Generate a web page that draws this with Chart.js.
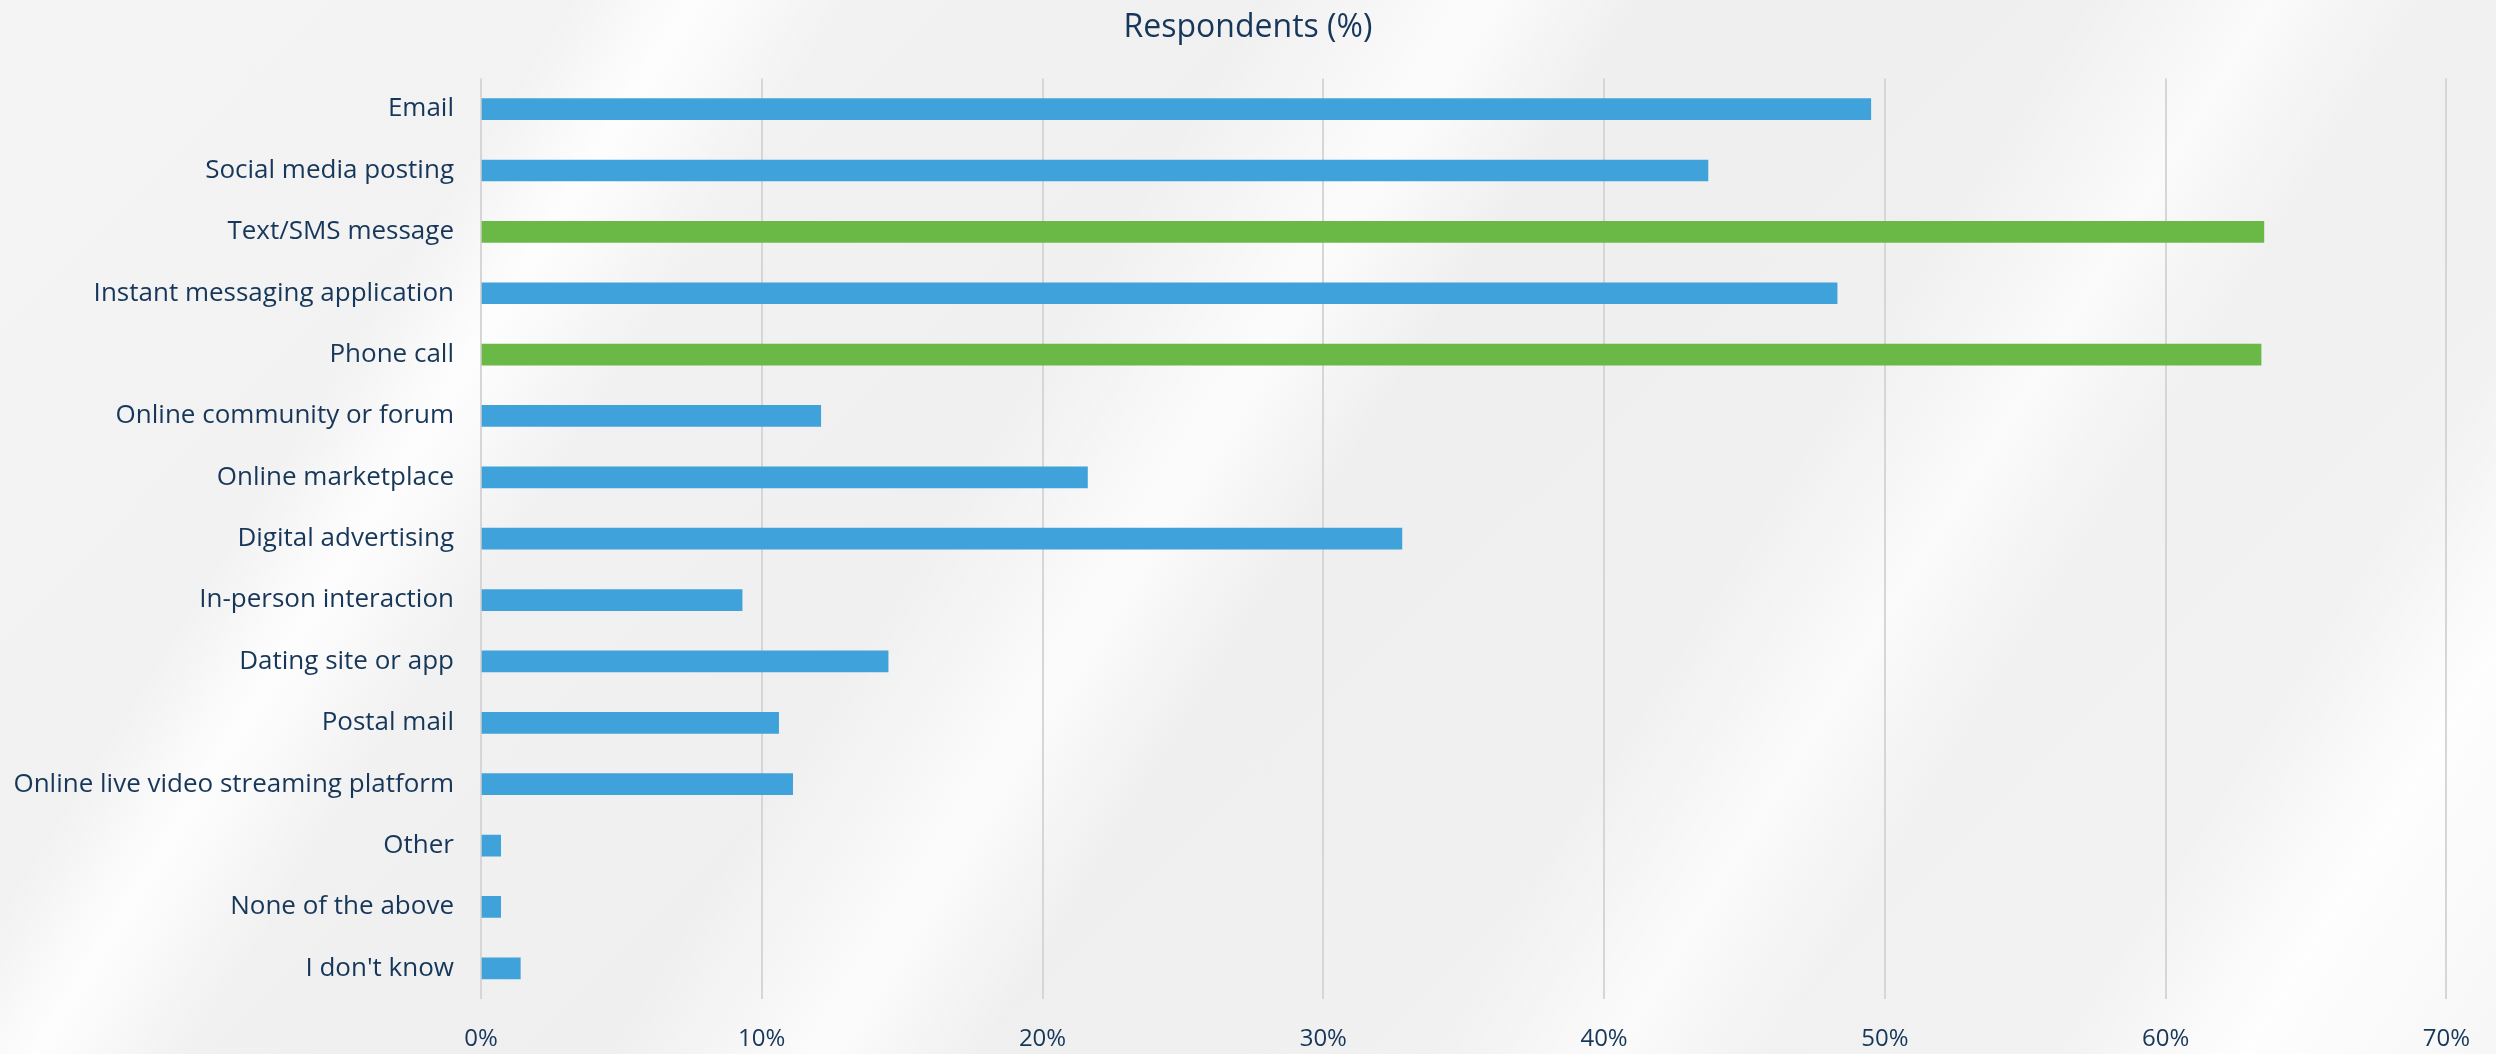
<!DOCTYPE html>
<html>
<head>
<meta charset="utf-8">
<script src="https://cdn.jsdelivr.net/npm/chart.js@4/dist/chart.umd.min.js"></script>
<style>
  html, body { margin: 0; padding: 0; }
  body {
    width: 2496px; height: 1054px; overflow: hidden;
    background:
      linear-gradient(122deg, rgba(255,255,255,0) 0%, rgba(255,255,255,0) 18%, rgba(255,255,255,0.9) 22%, rgba(255,255,255,0) 27%,
        rgba(255,255,255,0) 40%, rgba(255,255,255,0.8) 47%, rgba(255,255,255,0) 52%,
        rgba(255,255,255,0) 66%, rgba(255,255,255,0.7) 72%, rgba(255,255,255,0) 77%,
        rgba(255,255,255,0) 86%, rgba(255,255,255,0.9) 92%, rgba(255,255,255,0.3) 100%),
      linear-gradient(135deg, #f4f4f4 0%, #efefef 50%, #f3f3f3 100%);
  }
  #wrap { position: absolute; left: 0; top: 0; width: 2496px; height: 1054px; }
</style>
</head>
<body>
<div id="wrap"><canvas id="chart"></canvas></div>
<script>
// Categories and values (% of respondents)
const categories = [
    "Email",
    "Social media posting",
    "Text/SMS message",
    "Instant messaging application",
    "Phone call",
    "Online community or forum",
    "Online marketplace",
    "Digital advertising",
    "In-person interaction",
    "Dating site or app",
    "Postal mail",
    "Online live video streaming platform",
    "Other",
    "None of the above",
    "I don't know"
];
const respondents = [49.5, 43.7, 63.5, 48.3, 63.4, 12.1, 21.6, 32.8, 9.3, 14.5, 10.6, 11.1, 0.7, 0.7, 1.4];
const highlighted = ["Text/SMS message", "Phone call"];
const xTicks = [0, 10, 20, 30, 40, 50, 60, 70];

const blue = "#3fa2da";
const green = "#6ab946";
const textColor = "#17375a";
const fontName = "'Open Sans'";

const barColors = categories.map(c => highlighted.includes(c) ? green : blue);

const ctx = document.getElementById("chart");
new Chart(ctx, {
    type: "bar",
    data: {
        labels: categories,
        datasets: [
            {
                label: "Respondents (%)",
                data: respondents,
                backgroundColor: barColors,
                borderWidth: 0,
                barThickness: 21
            }
        ]
    },
    options: {
        indexAxis: "y",
        responsive: true,
        maintainAspectRatio: false,
        animation: false,
        plugins: {
            legend: { display: false },
            tooltip: { enabled: false },
            title: {
                display: true,
                text: "Respondents (%)",
                color: textColor,
                font: { family: fontName, size: 32, weight: "normal" },
                padding: { top: 9, bottom: 31 }
            }
        },
        scales: {
            x: {
                min: 0,
                max: 70,
                afterBuildTicks: scale => { scale.ticks = xTicks.map(v => ({ value: v })); },
                afterFit: scale => { scale.height = 55; },
                grid: { color: "#d6d6d6", lineWidth: 2, drawTicks: false },
                border: { display: false },
                ticks: {
                    color: textColor,
                    padding: 26,
                    font: { family: fontName, size: 24 },
                    callback: v => v + "%"
                }
            },
            y: {
                afterFit: scale => { scale.width = 481; },
                grid: { display: false, drawTicks: false },
                border: { display: false },
                ticks: {
                    color: textColor,
                    padding: 27,
                    autoSkip: false,
                    font: { family: fontName, size: 26 }
                }
            },
            // empty right-hand axis only reserves the right margin,
            // so the title stays centred on the whole page
            yRight: {
                type: "category",
                position: "right",
                labels: categories,
                afterFit: scale => { scale.width = 48; },
                grid: { display: false, drawTicks: false },
                border: { display: false },
                ticks: { display: false }
            }
        }
    }
});
</script>
</body>
</html>
